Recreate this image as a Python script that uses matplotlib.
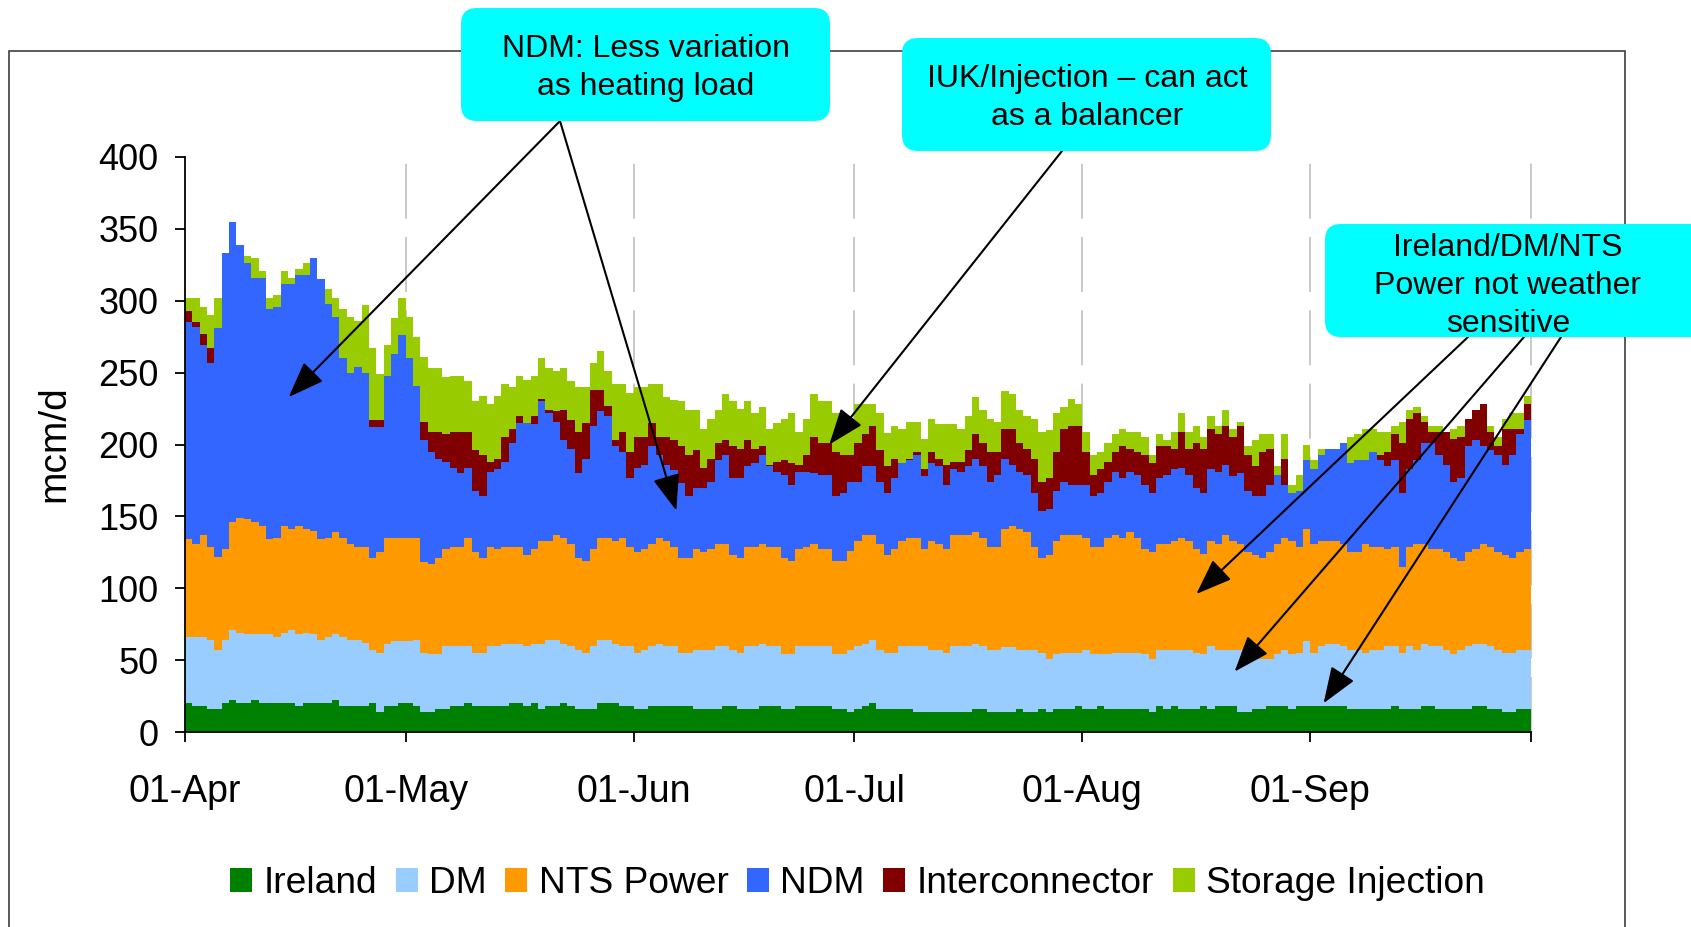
import numpy as np
import pandas as pd
import matplotlib
matplotlib.use('Agg')
import matplotlib.pyplot as plt
from matplotlib.patches import FancyBboxPatch, Rectangle
from matplotlib.transforms import IdentityTransform

plt.rcParams['font.family'] = ['Liberation Sans', 'DejaVu Sans']

# Dias del semestre de verano (1 abr - 30 sep)
fechas = pd.date_range('2009-04-01', '2009-09-30', freq='D')

# Niveles acumulados (techo de cada capa), mcm/d
ireland_top = np.array([
    20, 18, 18, 16, 16, 20, 22, 20, 20, 22, 20, 20, 20, 20, 20, 18, 20, 20, 20, 20, 22, 18, 18, 18, 18, 20, 14, 18, 18, 20, 20,
    18, 14, 14, 16, 16, 18, 18, 20, 18, 18, 18, 18, 18, 20, 20, 18, 20, 16, 18, 18, 20, 18, 16, 16, 16, 20, 20, 20, 18, 18,
    16, 16, 18, 18, 18, 18, 18, 18, 16, 16, 16, 16, 18, 18, 16, 16, 16, 18, 18, 18, 16, 16, 18, 18, 18, 18, 18, 16, 16,
    14, 16, 18, 20, 16, 16, 16, 16, 16, 14, 14, 14, 14, 14, 14, 14, 14, 16, 16, 14, 14, 14, 14, 16, 14, 14, 16, 14, 16, 16,
    16, 18, 16, 16, 18, 16, 16, 16, 16, 16, 16, 14, 18, 16, 18, 16, 16, 16, 18, 16, 18, 18, 18, 14, 14, 16, 16, 18, 18, 18,
    16, 18, 18, 18, 18, 18, 18, 18, 16, 16, 16, 16, 16, 16, 18, 16, 16, 16, 18, 18, 16, 16, 16, 16, 16, 18, 18, 16, 16, 14, 14, 16, 16])

dm_top = np.array([
    66, 66, 66, 64, 57, 64, 71, 69, 68, 68, 68, 68, 66, 69, 71, 68, 69, 68, 64, 66, 68, 66, 64, 64, 62, 57, 55, 61, 63, 63, 63,
    64, 55, 54, 54, 60, 60, 60, 60, 55, 55, 60, 60, 61, 61, 61, 60, 61, 61, 64, 64, 61, 60, 57, 55, 60, 64, 64, 61, 60, 60,
    55, 57, 60, 61, 60, 60, 55, 55, 57, 57, 57, 60, 60, 57, 55, 60, 60, 61, 60, 60, 54, 54, 60, 60, 60, 60, 60, 54, 54,
    57, 60, 61, 64, 57, 55, 55, 60, 60, 60, 60, 57, 57, 55, 60, 60, 60, 61, 60, 57, 57, 59, 59, 57, 57, 57, 55, 51, 54, 55,
    55, 55, 57, 54, 54, 54, 55, 55, 55, 55, 54, 51, 57, 57, 57, 57, 57, 55, 54, 60, 57, 57, 57, 57, 51, 51, 51, 51, 54, 57,
    54, 55, 63, 55, 60, 61, 61, 60, 57, 57, 55, 57, 57, 60, 60, 55, 60, 57, 61, 60, 60, 57, 54, 57, 60, 61, 61, 60, 57, 55, 55, 57, 57])

nts_top = np.array([
    134, 131, 137, 129, 122, 127, 146, 149, 148, 146, 143, 134, 135, 143, 141, 143, 141, 140, 134, 135, 139, 135, 131, 129, 129, 121, 125, 135, 135, 135, 135,
    135, 118, 117, 121, 127, 129, 129, 135, 125, 121, 129, 127, 129, 129, 129, 123, 127, 133, 133, 137, 135, 131, 121, 119, 127, 135, 135, 133, 135, 129,
    125, 127, 131, 135, 133, 129, 121, 121, 127, 125, 127, 131, 131, 123, 121, 129, 129, 131, 129, 129, 121, 119, 127, 129, 131, 127, 127, 119, 119,
    126, 133, 137, 137, 131, 123, 127, 133, 135, 135, 127, 133, 131, 127, 137, 137, 137, 139, 135, 129, 129, 141, 143, 141, 139, 129, 121, 123, 133, 137,
    137, 137, 135, 129, 129, 135, 137, 135, 139, 135, 127, 125, 131, 131, 133, 135, 133, 127, 124, 133, 131, 137, 133, 131, 125, 123, 121, 125, 131, 135,
    133, 129, 141, 131, 133, 133, 133, 131, 125, 125, 131, 129, 129, 127, 129, 115, 129, 131, 131, 127, 127, 125, 121, 119, 125, 127, 131, 129, 125, 123, 121, 125, 127])

ndm_top = np.array([
    285, 282, 269, 257, 281, 333, 355, 339, 326, 316, 316, 294, 296, 312, 312, 318, 318, 330, 315, 298, 289, 260, 250, 254, 250, 212, 212, 248, 263, 276, 260,
    241, 203, 195, 190, 188, 184, 180, 184, 168, 164, 181, 183, 188, 201, 215, 215, 214, 230, 222, 216, 203, 197, 180, 190, 213, 223, 220, 199, 195, 177,
    184, 186, 199, 193, 186, 182, 173, 164, 170, 170, 174, 189, 193, 177, 177, 185, 187, 193, 185, 181, 179, 172, 181, 181, 180, 179, 179, 164, 166,
    174, 174, 185, 185, 174, 166, 177, 187, 189, 193, 178, 187, 185, 172, 183, 181, 185, 190, 185, 174, 179, 190, 186, 181, 179, 166, 154, 155, 168, 174,
    172, 172, 172, 164, 166, 174, 181, 177, 181, 179, 172, 166, 177, 179, 183, 184, 179, 170, 166, 183, 181, 186, 178, 180, 168, 164, 164, 172, 179, 172,
    166, 168, 189, 183, 193, 197, 197, 201, 187, 189, 189, 195, 189, 185, 189, 166, 183, 189, 201, 201, 193, 186, 174, 177, 199, 203, 199, 196, 193, 186, 193, 207, 217])

ic_top = np.array([
    293, 285, 277, 267, 281, 333, 355, 339, 326, 316, 316, 294, 296, 312, 312, 318, 318, 330, 315, 298, 289, 260, 250, 254, 250, 217, 217, 248, 263, 276, 260,
    241, 216, 209, 209, 207, 209, 209, 209, 196, 193, 188, 190, 205, 211, 220, 215, 220, 232, 224, 223, 224, 217, 209, 215, 238, 238, 227, 203, 209, 195,
    205, 205, 215, 205, 205, 203, 199, 193, 196, 184, 190, 201, 203, 199, 197, 203, 197, 199, 186, 188, 189, 187, 186, 193, 205, 201, 201, 195, 193,
    193, 201, 207, 213, 196, 185, 190, 187, 190, 195, 183, 195, 190, 186, 188, 188, 196, 207, 201, 195, 195, 211, 211, 201, 197, 190, 174, 177, 195, 211,
    213, 213, 195, 179, 183, 188, 195, 199, 197, 195, 193, 187, 199, 199, 197, 209, 197, 201, 197, 211, 207, 213, 205, 213, 193, 185, 195, 197, 179, 190,
    166, 168, 189, 183, 193, 197, 197, 201, 187, 189, 189, 195, 193, 195, 207, 201, 218, 222, 216, 209, 209, 209, 204, 205, 218, 224, 228, 209, 199, 211, 211, 211, 228])

st_top = np.array([
    302, 302, 296, 290, 302, 333, 355, 339, 331, 330, 321, 302, 304, 321, 316, 322, 326, 330, 315, 308, 302, 294, 289, 286, 297, 267, 249, 269, 288, 302, 289,
    275, 261, 253, 253, 247, 248, 248, 244, 230, 234, 228, 234, 242, 240, 248, 245, 248, 260, 253, 251, 253, 244, 240, 240, 257, 265, 251, 242, 242, 236,
    240, 240, 242, 242, 233, 231, 230, 224, 224, 211, 218, 224, 235, 230, 225, 230, 222, 226, 211, 215, 218, 222, 209, 218, 235, 230, 230, 222, 218,
    218, 228, 228, 228, 222, 208, 213, 211, 216, 216, 204, 218, 214, 214, 214, 211, 220, 233, 224, 218, 216, 237, 235, 224, 220, 218, 209, 210, 222, 226,
    232, 228, 209, 193, 195, 201, 207, 211, 209, 209, 205, 193, 207, 203, 209, 222, 209, 213, 205, 220, 213, 224, 211, 216, 199, 203, 207, 207, 185, 207,
    172, 179, 200, 189, 197, 197, 197, 201, 205, 207, 211, 211, 209, 209, 213, 216, 224, 226, 220, 213, 213, 209, 211, 213, 218, 224, 228, 213, 205, 218, 222, 222, 234])

# Valores de cada serie (diferencia entre niveles)
ireland = ireland_top
dm = dm_top - ireland_top
nts_power = nts_top - dm_top
ndm = ndm_top - nts_top
interconnector = np.clip(ic_top - ndm_top, 0, None)
storage = np.clip(st_top - ic_top, 0, None)

nombres = ['Ireland', 'DM', 'NTS Power', 'NDM', 'Interconnector', 'Storage Injection']
colores = ['#008000', '#99CCFF', '#FF9900', '#3366FF', '#800000', '#99CC00']
series = [ireland, dm, nts_power, ndm, interconnector, storage]

W, H = 1691, 927
fig = plt.figure(figsize=(W / 100, H / 100), dpi=100)
ax = fig.add_axes([185 / W, 1 - 732 / H, (1531 - 185) / W, (732 - 157) / H])

# columnas diarias sin separacion -> escalones
x = np.arange(len(fechas) + 1)
capas = [np.append(s, s[-1]) for s in series]
polys = ax.stackplot(x, capas, colors=colores, step='post', linewidth=0,
                     antialiased=False, labels=nombres, zorder=2)

# ticks en el primer dia de cada mes
inicio_mes = [i for i, f in enumerate(fechas) if f.day == 1] + [len(fechas)]
etiquetas = [fechas[i].strftime('%d-%b') for i in inicio_mes[:-1]] + ['']
ax.set_xticks(inicio_mes)
ax.set_xticklabels(etiquetas)
ax.set_xlim(0, len(fechas))
ax.set_ylim(0, 400)
ax.set_yticks(np.arange(0, 401, 50))

for m in inicio_mes[1:]:
    ax.axvline(m, color='#C0C0C0', lw=1.2, dashes=(33, 11), zorder=0, clip_on=False)

for lado in ['top', 'right']:
    ax.spines[lado].set_visible(False)
for lado in ['left', 'bottom']:
    ax.spines[lado].set_linewidth(1.3)
    ax.spines[lado].set_zorder(3)
ax.tick_params(axis='both', length=7, width=1.3, direction='out')
ax.tick_params(axis='y', pad=12, labelsize=26)
ax.tick_params(axis='x', pad=23, labelsize=27)

fig.text(54 / W, 1 - 444 / H, 'mcm/d', rotation=90, ha='center', va='center', fontsize=28)

fig.legend(polys, nombres, loc='center', bbox_to_anchor=(0.507, 0.047), ncol=6,
           frameon=False, fontsize=26.7, handlelength=0.6, handleheight=0.6,
           handletextpad=0.3, columnspacing=0.5)

# marco exterior del grafico
fig.add_artist(Rectangle((9 / W, -0.02), (1625 - 9) / W, (H - 51) / H + 0.02,
                         transform=fig.transFigure, fill=False, edgecolor='#404040',
                         lw=1.2, zorder=0))

# cajas de comentarios
cajas = [
    ((461, 806, 369, 113), (646, 859), 'NDM: Less variation\nas heating load'),
    ((902, 776, 369, 113), (1087, 829), 'IUK/Injection \u2013 can act\nas a balancer'),
    ((1325, 590, 420, 113), (1508, 641), 'Ireland/DM/NTS\nPower not weather\nsensitive'),
]
for (x0, y0, w, h), (tx, ty), texto in cajas:
    fig.add_artist(FancyBboxPatch((x0, y0), w, h, boxstyle='round,pad=0,rounding_size=16',
                                  transform=IdentityTransform(), facecolor='#00FFFF',
                                  edgecolor='none', zorder=5))
    fig.text(tx / W, ty / H, texto, ha='center', va='center', fontsize=23,
             linespacing=1.35, zorder=6)

# flechas: origen en la caja (pixeles de figura), destino en datos
flechas = [
    ((560, 806), (14.1, 233)),
    ((560, 806), (66.8, 154)),
    ((1062, 776), (87.6, 200)),
    ((1468, 590), (137.5, 96)),
    ((1524, 590), (142.7, 42)),
    ((1561, 590), (154.8, 20)),
]
for origen, destino in flechas:
    ax.annotate('', xy=destino, xycoords='data', xytext=origen, textcoords='figure pixels',
                annotation_clip=False,
                arrowprops=dict(arrowstyle='-|>,head_length=0.8,head_width=0.3',
                                color='black', lw=1.5, mutation_scale=28,
                                shrinkA=0, shrinkB=0), zorder=4)

fig.savefig('out.png', dpi=100)
